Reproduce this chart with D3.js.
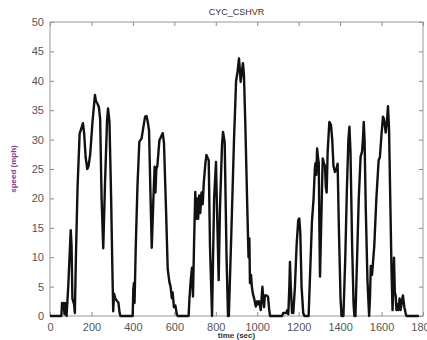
<!DOCTYPE html>
<html>
<head>
<meta charset="utf-8">
<script src="https://cdn.jsdelivr.net/npm/d3@7"></script>
<style>
  body { margin: 0; background: #fff; }
  svg { display: block; }
</style>
</head>
<body>
<svg id="chart" width="427" height="340"></svg>
<script>
const chartTitle = 'CYC_CSHVR';
const xLabel = 'time (sec)';
const yLabel = 'speed (mph)';
const xTicks = [0, 200, 400, 600, 800, 1000, 1200, 1400, 1600, 1800];
const yTicks = [0, 5, 10, 15, 20, 25, 30, 35, 40, 45, 50];

// drive cycle trace
const timeSec = [
  0, 55, 58, 63, 66, 70, 73, 77, 80, 88, 100, 104, 108, 112, 116, 120, 125, 133, 143, 152,
  159, 165, 172, 180, 186, 194, 205, 217, 222, 228, 236, 242, 249, 257, 265, 275, 280, 287, 295, 301,
  305, 309, 315, 322, 330, 336, 340, 399, 402, 405, 408, 414, 422, 431, 442, 450, 459, 466, 472, 478,
  484, 491, 499, 505, 509, 513, 518, 528, 536, 544, 550, 560, 568, 576, 582, 588, 592, 598, 605, 612,
  616, 669, 673, 679, 685, 690, 695, 701, 705, 710, 715, 720, 725, 731, 737, 742, 750, 755, 762, 766,
  772, 782, 786, 792, 801, 806, 814, 820, 830, 835, 843, 852, 859, 863, 875, 888, 898, 905, 912, 916,
  920, 926, 931, 936, 943, 951, 958, 962, 965, 970, 974, 979, 985, 993, 1000, 1005, 1009, 1017, 1025, 1029,
  1033, 1037, 1045, 1052, 1058, 1062, 1120, 1125, 1140, 1145, 1150, 1155, 1158, 1162, 1168, 1174, 1182, 1190, 1198, 1203,
  1208, 1214, 1222, 1228, 1248, 1256, 1264, 1272, 1278, 1281, 1285, 1289, 1293, 1297, 1300, 1303, 1309, 1316, 1322, 1327,
  1331, 1335, 1340, 1348, 1356, 1362, 1368, 1375, 1382, 1388, 1394, 1402, 1407, 1416, 1425, 1433, 1440, 1445, 1450, 1458,
  1465, 1469, 1474, 1482, 1490, 1499, 1506, 1510, 1514, 1518, 1524, 1532, 1540, 1544, 1548, 1554, 1559, 1565, 1575, 1586,
  1592, 1600, 1607, 1612, 1620, 1626, 1631, 1636, 1642, 1648, 1653, 1657, 1660, 1664, 1668, 1672, 1676, 1681, 1687, 1692,
  1698, 1703, 1710, 1716, 1720, 1780
];
const speedMph = [
  0, 0, 2.2, 1.5, 2.2, 0.3, 2.2, 2, 0, 5, 14.6, 12, 3, 2.5, 2, 0.5, 10, 22, 31, 32,
  32.8, 31, 27, 25, 25.5, 27.5, 33, 37.6, 36.5, 36.2, 35.5, 33.5, 20, 11.5, 22, 33, 35.3, 33, 20, 8,
  0.8, 3.8, 3, 2.6, 2.3, 0.5, 0, 0, 4.5, 5.6, 2.2, 12, 22, 29.6, 30.2, 32, 33.9, 34, 33, 31.5,
  22, 11.6, 20, 25.4, 21, 25, 25.5, 29.9, 30.5, 31.1, 29.5, 18, 8, 5.8, 5, 3, 4, 1.5, 1.8, 0.3,
  0, 0, 3, 6, 8.2, 3.3, 12, 21.1, 16.5, 20, 16.5, 20.5, 17.5, 21, 19, 22.6, 26, 27.4, 26.8, 26.5,
  12, 0, 8, 20, 26.2, 18, 6.1, 18, 29, 31.3, 29.5, 10, 0, 0, 14, 30, 40, 41.5, 43.8, 42,
  39.8, 41.5, 43, 41, 32, 20, 10, 13.2, 5.6, 7, 5, 3.8, 3, 1.6, 2.5, 2, 2.5, 1, 5, 3,
  1.5, 3.5, 3.5, 3.3, 1, 0, 0, 0.5, 0.5, 1, 0.3, 5, 9.2, 5, 0.5, 0.5, 5, 12, 16.3, 16.6,
  14, 5, 0.5, 0, 0, 8, 16, 20, 25, 26, 24, 28.5, 27, 26, 15, 6.7, 16, 26.8, 26, 25.5,
  22, 21, 28, 33, 32.5, 30, 25.5, 24.5, 25, 25.9, 15, 3, 0, 0, 10, 22, 30, 32.2, 28, 12,
  2, 0, 0, 10, 20, 27.1, 28, 30, 33, 30, 18, 6, 0, 3, 8.5, 7, 9.2, 12, 20, 26.5,
  27, 31, 33.9, 33.5, 31.2, 33, 35.7, 32, 20, 8, 1, 5, 9.9, 4, 3.5, 1, 2, 1, 3, 1,
  2.5, 3.5, 1.5, 0.5, 0, 0
];

const margin = { top: 22, right: 4, bottom: 24, left: 50 };
const svg = d3.select('#chart');
const W = +svg.attr('width');
const H = +svg.attr('height');
const width = W - margin.left - margin.right;
const height = H - margin.top - margin.bottom;
const fontFamily = 'Liberation Sans, Arial, sans-serif';

const x = d3.scaleLinear().domain([0, 1800]).range([0, width]);
const y = d3.scaleLinear().domain([0, 50]).range([height, 0]);

const g = svg.append('g').attr('transform', `translate(${margin.left},${margin.top})`);

// axes with inward ticks on all four sides (matlab look)
function styleAxis(sel) {
  sel.select('.domain').remove();
  sel.selectAll('.tick line').attr('stroke', '#888');
  sel.selectAll('.tick text')
    .attr('fill', '#555')
    .style('font-family', fontFamily)
    .style('font-size', '11px');
}

g.append('g')
  .attr('transform', `translate(0,${height})`)
  .call(d3.axisBottom(x).tickValues(xTicks).tickSize(-4).tickPadding(7).tickFormat(d3.format('d')))
  .call(styleAxis);

g.append('g')
  .call(d3.axisTop(x).tickValues(xTicks).tickSize(-4).tickFormat(''))
  .call(styleAxis);

g.append('g')
  .call(d3.axisLeft(y).tickValues(yTicks).tickSize(-4).tickPadding(6))
  .call(styleAxis);

g.append('g')
  .attr('transform', `translate(${width},0)`)
  .call(d3.axisRight(y).tickValues(yTicks).tickSize(-4).tickFormat(''))
  .call(styleAxis);

g.append('rect')
  .attr('width', width)
  .attr('height', height)
  .attr('fill', 'none')
  .attr('stroke', '#999')
  .attr('stroke-width', 1);

// speed trace
const line = d3.line()
  .x(i => x(timeSec[i]))
  .y(i => y(speedMph[i]));

g.append('path')
  .datum(d3.range(timeSec.length))
  .attr('fill', 'none')
  .attr('stroke', '#111')
  .attr('stroke-width', 2.4)
  .attr('stroke-linejoin', 'round')
  .attr('d', line);

// title and labels
svg.append('text')
  .attr('x', margin.left + width / 2)
  .attr('y', 15)
  .attr('text-anchor', 'middle')
  .attr('fill', '#333')
  .style('font-family', fontFamily)
  .style('font-size', '9px')
  .text(chartTitle);

svg.append('text')
  .attr('x', margin.left + width / 2)
  .attr('y', 338)
  .attr('text-anchor', 'middle')
  .attr('fill', '#333')
  .style('font-family', fontFamily)
  .style('font-size', '8px')
  .style('font-weight', 'bold')
  .text(xLabel);

svg.append('text')
  .attr('transform', `translate(16,${margin.top + height / 2}) rotate(-90)`)
  .attr('text-anchor', 'middle')
  .attr('fill', '#7b3a8c')
  .style('font-family', fontFamily)
  .style('font-size', '8px')
  .style('font-weight', 'bold')
  .text(yLabel);
</script>
</body>
</html>
